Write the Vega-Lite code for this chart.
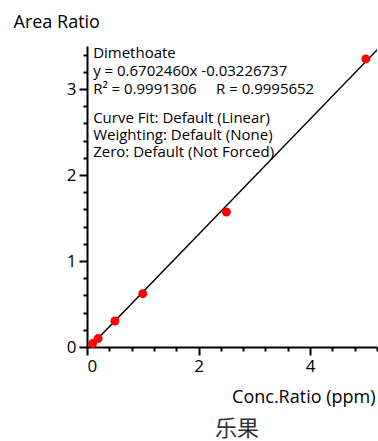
{
  "$schema": "https://vega.github.io/schema/vega-lite/v6.json",
  "width": 290,
  "height": 301,
  "autosize": {"type": "none"},
  "padding": {"left": 87, "top": 46, "right": 1, "bottom": 94},
  "background": "white",
  "config": {"view": {"stroke": null}, "font": "Open Sans"},
  "title": {"text": "乐果", "orient": "bottom", "font": "Noto Sans CJK SC", "fontSize": 22, "fontWeight": "normal", "color": "#333333", "offset": 13, "dx": 5},
  "datasets": {
    "points": [
      {"conc": 0.1, "area": 0.04},
      {"conc": 0.2, "area": 0.098},
      {"conc": 0.5, "area": 0.302},
      {"conc": 1.0, "area": 0.62},
      {"conc": 2.5, "area": 1.57},
      {"conc": 5.0, "area": 3.35}
    ],
    "fit": [
      {"conc": 0, "area": -0.03226737},
      {"conc": 5.27, "area": 3.5}
    ],
    "note": [{"label": "annotation"}]
  },
  "resolve": {"axis": {"x": "independent", "y": "independent"}},
  "layer": [
    {
      "data": {"name": "fit"},
      "mark": {"type": "line", "color": "black", "strokeWidth": 1.5, "clip": true},
      "encoding": {
        "x": {"field": "conc", "type": "quantitative", "scale": {"domain": [0, 5.2], "nice": false, "zero": false},
          "axis": {"orient": "bottom", "values": [0, 2, 4], "format": "d", "domainColor": "black", "domainWidth": 2, "tickColor": "black", "tickWidth": 2, "tickSize": 8, "labelFontSize": 17, "labelColor": "black", "labelPadding": 3, "grid": false,
            "title": "Conc.Ratio (ppm)", "titleFontSize": 18, "titleFontWeight": "normal", "titleColor": "black", "titleAnchor": "end", "titleAlign": "right", "titleX": 288, "titleY": 55, "titleBaseline": "alphabetic"}},
        "y": {"field": "area", "type": "quantitative", "scale": {"domain": [0, 3.5], "nice": false, "zero": false},
          "axis": {"orient": "left", "values": [0, 1, 2, 3], "format": "d", "domainColor": "black", "domainWidth": 2, "tickColor": "black", "tickWidth": 2, "tickSize": 8, "labelFontSize": 17, "labelColor": "black", "labelPadding": 3, "grid": false,
            "title": "Area Ratio", "titleAngle": 0, "titleFontSize": 18, "titleFontWeight": "normal", "titleColor": "black", "titleAlign": "left", "titleX": -74, "titleY": -19, "titleBaseline": "alphabetic"}}
      }
    },
    {
      "data": {"name": "points"},
      "mark": {"type": "circle", "color": "#ff0000", "opacity": 1, "size": 80},
      "encoding": {
        "x": {"field": "conc", "type": "quantitative", "scale": {"domain": [0, 5.2], "nice": false, "zero": false},
          "axis": {"orient": "bottom", "values": [0.4, 0.8, 1.2, 1.6, 2.4, 2.8, 3.2, 3.6, 4.4, 4.8, 5.2], "labels": false, "domain": false, "tickColor": "black", "tickWidth": 2, "tickSize": 4, "grid": false, "title": null}},
        "y": {"field": "area", "type": "quantitative", "scale": {"domain": [0, 3.5], "nice": false, "zero": false},
          "axis": {"orient": "left", "values": [0.2, 0.4, 0.6, 0.8, 1.2, 1.4, 1.6, 1.8, 2.2, 2.4, 2.6, 2.8, 3.2, 3.4], "labels": false, "domain": false, "tickColor": "black", "tickWidth": 2, "tickSize": 4, "grid": false, "title": null}}
      }
    },
    {
      "data": {"name": "note"},
      "mark": {"type": "text", "align": "left", "baseline": "alphabetic", "fontSize": 15, "lineHeight": 18, "color": "black",
        "text": ["Dimethoate", "y = 0.6702460x -0.03226737", "R² = 0.9991306\u00a0\u00a0\u00a0\u00a0\u00a0R = 0.9995652"]},
      "encoding": {"x": {"datum": 0.11, "axis": null}, "y": {"datum": 3.36, "axis": null}}
    },
    {
      "data": {"name": "note"},
      "mark": {"type": "text", "align": "left", "baseline": "alphabetic", "fontSize": 15, "lineHeight": 17, "color": "black",
        "text": ["Curve Fit: Default (Linear)", "Weighting: Default (None)", "Zero: Default (Not Forced)"]},
      "encoding": {"x": {"datum": 0.11, "axis": null}, "y": {"datum": 2.6, "axis": null}}
    }
  ]
}
